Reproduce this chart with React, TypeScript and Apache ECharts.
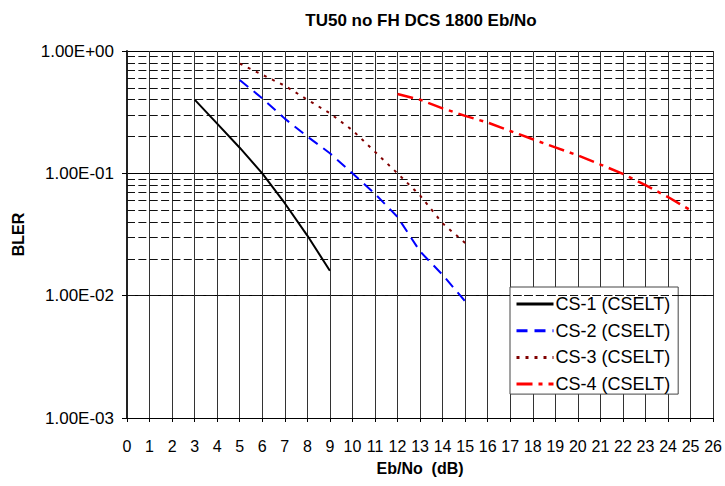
import React, { useEffect, useRef } from "react";
import * as echarts from "echarts";

const titleText = "TU50 no FH DCS 1800 Eb/No";
const xName = "Eb/No  (dB)";
const yName = "BLER";

const cs1X = [3, 4, 5, 6, 7, 8, 9];
const cs1Y = [0.4, 0.255, 0.162, 0.1, 0.057, 0.031, 0.016];

const cs2X = [5, 6, 7, 8, 9, 10, 11, 12, 13, 14, 15];
const cs2Y = [0.58, 0.41, 0.28, 0.2, 0.146, 0.1, 0.068, 0.044, 0.023, 0.0148, 0.009];

const cs3X = [5, 6, 7, 8, 9, 10, 11, 12, 13, 14, 15];
const cs3Y = [0.79, 0.64, 0.52, 0.4, 0.31, 0.225, 0.15, 0.1, 0.066, 0.039, 0.027];

const cs4X = [12, 13, 14, 15, 16, 17, 18, 19, 20, 21, 22, 23, 24, 25];
const cs4Y = [0.445, 0.4, 0.34, 0.295, 0.26, 0.222, 0.19, 0.163, 0.14, 0.118, 0.099, 0.08, 0.064, 0.05];

const seriesNames = ["CS-1 (CSELT)", "CS-2 (CSELT)", "CS-3 (CSELT)", "CS-4 (CSELT)"];

const minorDecades = [0.001, 0.01, 0.1];
const minorMultipliers = [2, 3, 4, 5, 6, 7, 8, 9];

const FONT = "'Liberation Sans', Arial, sans-serif";

function pairs(xs: number[], ys: number[]) {
  return xs.map((x, i) => [x, ys[i]]);
}

function fmtExp(v: number) {
  const e = Math.round(Math.log10(v));
  const m = v / Math.pow(10, e);
  const sign = e < 0 ? "-" : "+";
  return `${m.toFixed(2)}E${sign}${String(Math.abs(e)).padStart(2, "0")}`;
}

export default function App() {
  const ref = useRef<HTMLDivElement>(null);
  useEffect(() => {
    if (!ref.current) return;
    const chart = echarts.init(ref.current, null, { renderer: "svg" });
    const minorLines: any[] = [];
    minorDecades.forEach((d) =>
      minorMultipliers.forEach((m) => minorLines.push({ yAxis: +(d * m).toPrecision(3) }))
    );
    chart.setOption({
      animation: false,
      backgroundColor: "#ffffff",
      title: {
        text: titleText,
        left: 416,
        top: 7,
        textAlign: "center",
        textStyle: { fontFamily: FONT, fontSize: 17, fontWeight: "bold", color: "#000" },
      },
      grid: { left: 127, right: 7, top: 51, bottom: 68, containLabel: false },
      legend: {
        orient: "vertical",
        left: 510,
        top: 287,
        padding: [8, 8, 1, 5],
        itemGap: 8.7,
        itemWidth: 37,
        itemHeight: 18,
        backgroundColor: "#ffffff",
        borderColor: "#444",
        borderWidth: 1,
        itemStyle: { opacity: 0 },
        lineStyle: { width: 3 },
        textStyle: { fontFamily: FONT, fontSize: 18, color: "#000", padding: [0, 0, 0, -3] },
        data: seriesNames.map((n) => ({ name: n, itemStyle: { opacity: 0 }, lineStyle: { width: 3 } })),
      },
      xAxis: {
        type: "value",
        min: 0,
        max: 26,
        interval: 1,
        name: xName,
        nameLocation: "middle",
        nameGap: 42,
        nameTextStyle: { fontFamily: FONT, fontSize: 16, fontWeight: "bold", color: "#000" },
        axisLine: { show: true, onZero: false, lineStyle: { color: "#000", width: 1 } },
        axisTick: { show: true, length: 4, lineStyle: { color: "#000" } },
        axisLabel: { fontFamily: FONT, fontSize: 16, color: "#000", margin: 20, interval: 0 },
        splitLine: { show: true, lineStyle: { color: "#333", width: 1 } },
      },
      yAxis: {
        type: "log",
        logBase: 10,
        min: 0.001,
        max: 1,
        name: yName,
        nameLocation: "middle",
        nameGap: 101,
        nameRotate: 90,
        nameTextStyle: { fontFamily: FONT, fontSize: 16, fontWeight: "bold", color: "#000" },
        axisLine: { show: true, lineStyle: { color: "#222", width: 2 } },
        axisTick: { show: true, length: 5, lineStyle: { color: "#000" } },
        axisLabel: { fontFamily: FONT, fontSize: 17, color: "#000", margin: 13, formatter: fmtExp },
        splitLine: { show: true, lineStyle: { color: "#000", width: 1 } },
      },
      series: [
        {
          name: "grid-minor",
          type: "line",
          data: [],
          silent: true,
          z: 1,
          markLine: {
            silent: true,
            symbol: ["none", "none"],
            label: { show: false },
            lineStyle: { color: "#111", width: 1, type: [8, 3.36] },
            data: minorLines,
          },
        },
        {
          name: seriesNames[0],
          type: "line",
          data: pairs(cs1X, cs1Y),
          symbol: "none",
          z: 5,
          lineStyle: { color: "#000000", width: 2, type: "solid" },
          itemStyle: { color: "#000000" },
        },
        {
          name: seriesNames[1],
          type: "line",
          data: pairs(cs2X, cs2Y),
          symbol: "none",
          z: 5,
          lineStyle: { color: "#0000ff", width: 2, type: [11, 7] },
          itemStyle: { color: "#0000ff" },
        },
        {
          name: seriesNames[2],
          type: "line",
          data: pairs(cs3X, cs3Y),
          symbol: "none",
          z: 5,
          lineStyle: { color: "#800000", width: 2, type: [3, 6] },
          itemStyle: { color: "#800000" },
        },
        {
          name: seriesNames[3],
          type: "line",
          data: pairs(cs4X, cs4Y),
          symbol: "none",
          z: 5,
          lineStyle: { color: "#ff0000", width: 2.5, type: [16, 6, 4, 6] },
          itemStyle: { color: "#ff0000" },
        },
      ],
    });
    return () => chart.dispose();
  }, []);
  return <div ref={ref} style={{ width: 725, height: 486, position: "absolute", left: 0, top: 0 }} />;
}
